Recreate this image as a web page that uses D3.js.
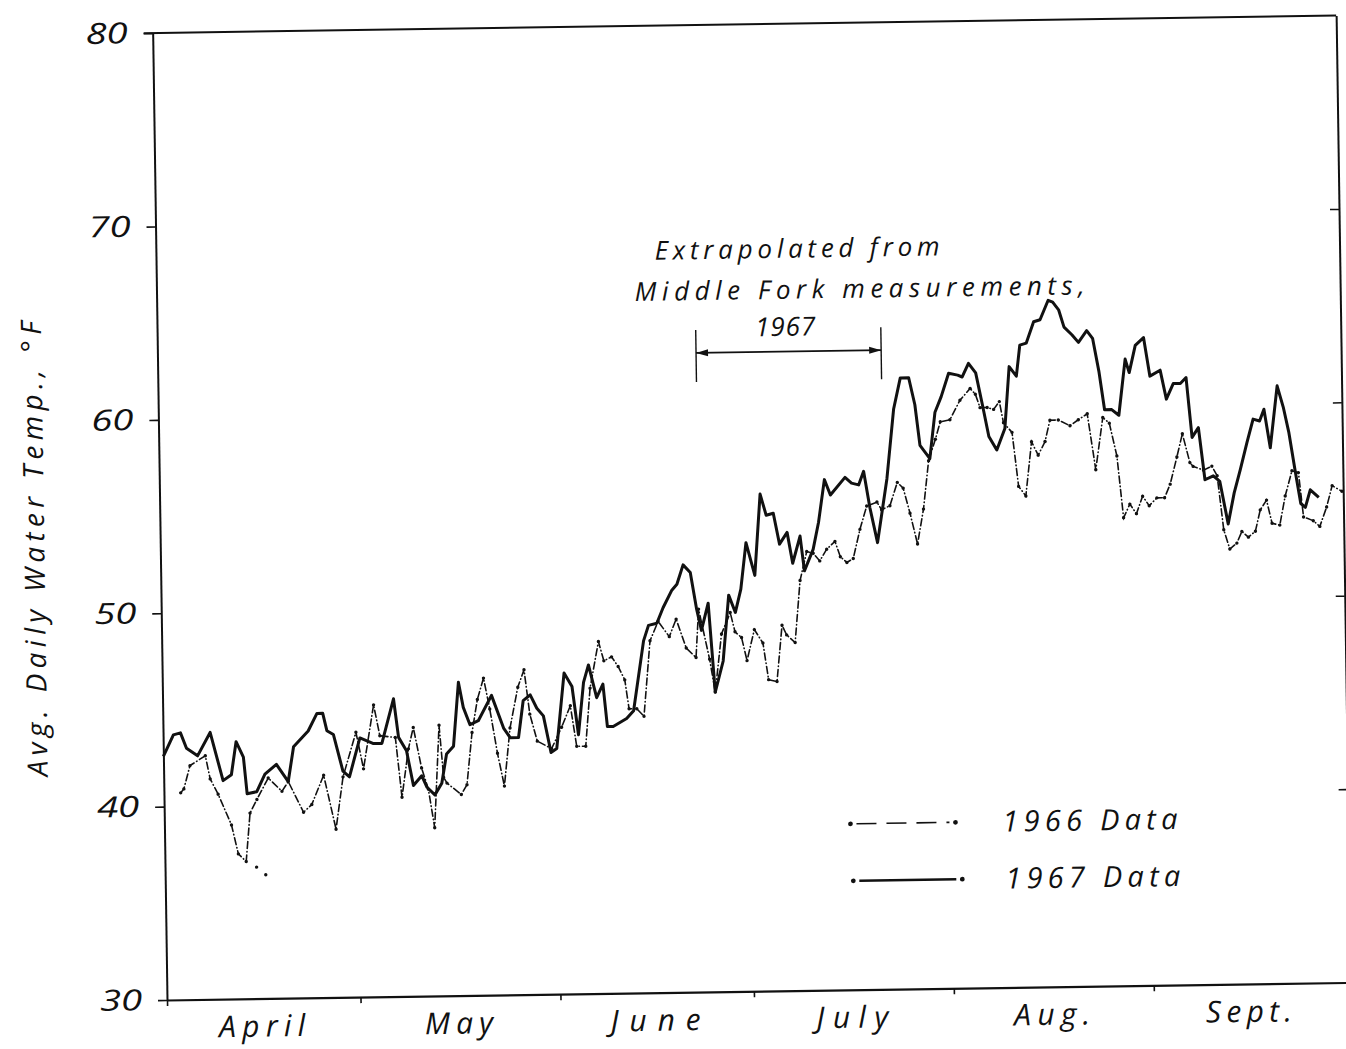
<!DOCTYPE html>
<html>
<head>
<meta charset="utf-8">
<script src="https://cdn.jsdelivr.net/npm/d3@7"></script>
<style>
    body { margin: 0; background: #fff; }
    svg text {
        font-family: "Open Sans", "DejaVu Sans", sans-serif;
        font-style: italic;
        font-weight: 400;
        fill: #111;
    }
</style>
</head>
<body>
<div class="container"></div>
<script>
/*
    Data: [day of season (0 = April 1), avg. water temp in deg F]
*/
const temps1966 = [
    [2.6,40.7],[3.1,40.9],[4.1,42.1],[6.5,42.6],[7.2,41.4],[8.4,40.6],[10.4,39.0],[11.4,37.5],[12.6,37.1],
    [13.3,39.6],[14.4,40.3],[16.2,41.4],[18.3,40.7],[19.3,41.2],[21.6,39.6],[22.9,40.0],[24.8,41.5],
    [26.6,38.7],[27.8,41.4],[29.9,43.7],[31.0,41.8],[32.7,45.1],[33.6,43.5],[36.0,43.4],[36.9,40.3],
    [38.0,42.8],[38.8,43.9],[40.0,41.8],[41.0,40.7],[41.9,38.7],[42.8,44.0],[43.4,41.3],[43.9,41.0],
    [46.1,40.4],[47.0,40.9],[47.9,43.6],[48.8,45.3],[49.8,46.4],[50.7,44.8],[51.8,42.5],[52.8,40.8],
    [53.8,43.8],[55.1,45.9],[56.1,46.8],[56.9,44.5],[58.0,43.1],[60.2,42.7],[61.8,43.8],[63.2,44.9],
    [64.1,42.8],[65.5,42.8],[66.3,45.8],[67.7,48.2],[68.5,47.2],[69.7,47.4],[70.7,46.9],[71.7,46.2],
    [72.3,44.7],[73.5,44.7],[74.6,44.3],[75.7,48.2],[77.0,49.2],[78.7,48.4],[79.8,49.3],[81.3,47.8],
    [82.8,47.3],[83.3,49.8],[84.9,47.2],[85.7,45.5],[86.8,48.5],[88.2,49.6],[88.9,48.6],[89.9,48.3],
    [90.7,47.1],[91.9,48.7],[93.2,48.0],[94.0,46.1],[95.3,46.0],[96.2,48.9],[96.9,48.4],[98.2,48.0],
    [99.1,51.2],[100.2,52.7],[101.2,52.6],[102.2,52.2],[103.3,52.8],[104.6,53.2],[105.4,52.4],[106.4,52.1],
    [107.4,52.3],[108.5,53.8],[109.6,55.0],[111.2,55.2],[111.9,54.8],[113.2,55.0],[114.4,56.2],[115.3,55.9],
    [116.3,54.6],[117.4,53.0],[118.4,54.8],[119.3,57.3],[120.4,58.4],[121.2,59.3],[122.7,59.4],[124.3,60.4],
    [125.9,61.0],[126.7,60.7],[127.4,60.0],[128.5,60.0],[129.5,59.9],[130.4,60.3],[131.0,59.2],[132.3,58.7],
    [133.2,55.9],[134.3,55.4],[135.3,58.2],[136.3,57.5],[137.4,58.2],[138.2,59.3],[139.5,59.3],[141.3,59.0],
    [142.6,59.3],[144.0,59.6],[145.2,56.7],[146.4,59.4],[147.4,59.1],[148.5,57.4],[149.4,54.2],[150.4,54.9],
    [151.4,54.4],[152.4,55.3],[153.4,54.8],[154.6,55.2],[155.8,55.2],[156.7,55.9],[157.8,57.3],[158.7,58.5],
    [159.8,57.0],[160.3,56.8],[161.9,56.6],[163.2,56.8],[164.0,56.3],[164.9,53.5],[165.8,52.5],[166.9,52.8],
    [167.7,53.4],[168.7,53.1],[169.8,53.4],[170.6,54.5],[171.6,55.0],[172.4,53.8],[173.6,53.7],[174.5,55.2],
    [175.6,56.5],[176.6,56.4],[177.3,54.1],[178.8,53.9],[179.8,53.6],[180.9,54.6],[181.8,55.7],[183.3,55.4]
];

// loose dots trailing off the April 1966 dip
const tail1966 = [[14.2,36.8],[15.6,36.4]];

const temps1967 = [
    [0,42.6],[1.6,43.7],[2.7,43.8],[3.6,43.0],[5.3,42.6],[7.3,43.8],[9.2,41.3],[10.5,41.6],[11.3,43.3],
    [12.4,42.5],[12.9,40.6],[14.4,40.7],[15.7,41.6],[17.5,42.1],[19.3,41.2],[20.2,43.0],[22.5,43.8],
    [23.9,44.7],[24.8,44.7],[25.4,43.8],[26.4,43.6],[27.8,41.7],[28.8,41.4],[30.5,43.4],[32.6,43.1],
    [33.9,43.1],[35.8,45.4],[36.5,43.4],[37.7,42.7],[38.7,40.9],[40.0,41.4],[40.8,40.8],[42.0,40.4],
    [43.1,41.0],[43.9,42.5],[45.0,42.9],[45.9,46.2],[46.6,44.9],[47.6,44.0],[48.9,44.2],[51.0,45.5],
    [52.8,43.8],[53.8,43.3],[55.1,43.3],[55.9,45.2],[57.0,45.5],[58.0,44.8],[59.0,44.4],[60.1,42.5],
    [61.0,42.7],[62.3,46.6],[63.5,45.9],[64.4,43.4],[65.3,46.1],[66.1,47.0],[67.3,45.3],[68.3,46.0],
    [68.9,43.8],[69.8,43.8],[71.9,44.2],[73.0,44.6],[74.7,48.2],[75.5,49.0],[76.8,49.1],[77.8,49.9],
    [79.2,50.8],[80.0,51.1],[81.0,52.1],[82.1,51.7],[83.0,49.8],[83.7,48.7],[84.8,50.1],[85.7,45.5],
    [87.0,47.1],[88.0,50.5],[89.0,49.6],[89.9,50.8],[90.8,53.2],[92.1,51.5],[93.1,55.7],[94.0,54.6],
    [95.1,54.7],[96.0,53.1],[97.2,53.7],[98.0,52.1],[99.2,53.5],[99.8,51.7],[101.2,52.8],[102.1,54.2],
    [103.1,56.4],[104.0,55.6],[106.3,56.5],[107.3,56.2],[108.4,56.1],[109.2,56.8],[110.1,54.9],[111.2,53.1],
    [112.8,56.4],[114.0,60.0],[115.1,61.6],[116.4,61.6],[117.3,60.2],[118.0,58.1],[119.5,57.4],[120.4,59.8],
    [121.4,60.6],[122.6,61.8],[124.0,61.7],[124.7,61.6],[125.7,62.3],[126.8,61.8],[127.8,60.1],[128.7,58.5],
    [129.9,57.8],[131.2,58.9],[132.0,62.1],[133.1,61.6],[133.7,63.2],[134.7,63.3],[135.9,64.4],[136.9,64.5],
    [138.2,65.5],[138.9,65.4],[139.8,65.0],[140.6,64.1],[141.8,63.7],[142.8,63.3],[144.1,63.9],[145.0,63.5],
    [145.9,61.8],[146.7,59.8],[147.8,59.8],[148.9,59.5],[150.0,62.4],[150.6,61.7],[151.6,63.1],[152.9,63.5],
    [153.8,61.5],[155.4,61.8],[156.3,60.3],[157.4,61.1],[158.5,61.1],[159.4,61.4],[160.2,58.3],[161.2,58.8],
    [162.1,56.1],[163.4,56.3],[164.4,56.0],[165.6,53.8],[166.6,55.4],[167.6,56.6],[168.7,58.0],[169.7,59.2],
    [170.7,59.1],[171.4,59.7],[172.3,57.7],[173.5,60.9],[174.4,59.8],[175.2,58.5],[176.1,56.5],[176.9,54.8],
    [177.6,54.6],[178.4,55.5],[179.7,55.1]
];

const monthNames = ["April", "May", "June", "July", "Aug.", "Sept."];
const monthStarts = [0, 30, 61, 91, 122, 153];
const seasonEnd = 183.5;
const yTicks = [30, 40, 50, 60, 70, 80];
const rightTicks = [40, 50, 60, 70];
const extrapolatedSpan = [83.5, 112.2];
const noteLines = ["Extrapolated from", "Middle Fork measurements,", "1967"];
const legendLabels = ["1966 Data", "1967 Data"];

/*
    Layout (the scanned sheet sits a little crooked)
*/
const svg_dims = { width: 1346, height: 1049 };
const plot = { left: 167, bottom: 1000, width: 1183.6, height: 967, tilt: -0.85 };

const svg = d3.select(".container").append("svg")
    .attr("width", svg_dims.width)
    .attr("height", svg_dims.height);

svg.append("rect").attr("width", svg_dims.width).attr("height", svg_dims.height).attr("fill", "#fff");

// origin at the bottom-left corner of the frame, y grows downward as usual (negative = up)
const g = svg.append("g")
    .attr("transform", `translate(${plot.left},${plot.bottom}) rotate(${plot.tilt})`);

const xScale = d3.scaleLinear().domain([0, seasonEnd]).range([0, plot.width]);
const yScale = d3.scaleLinear().domain([30, 80]).range([0, -plot.height]);

/* Axes */
const ink = "#111";

g.append("g")
    .call(d3.axisLeft(yScale).tickValues(yTicks).tickSize(9).tickSizeOuter(0).tickFormat(d3.format("d")))
    .call(ax => {
        ax.select(".domain").attr("stroke", ink).attr("stroke-width", 2);
        ax.selectAll(".tick line").attr("stroke", ink).attr("stroke-width", 1.6);
        ax.selectAll(".tick text")
            .attr("x", -25)
            .attr("font-size", 29)
            .attr("textLength", 42)
            .attr("lengthAdjust", "spacingAndGlyphs")
            .style("font-family", null);
    });

g.append("g")
    .attr("transform", `translate(${plot.width},0)`)
    .call(d3.axisLeft(yScale).tickValues(rightTicks).tickSize(9).tickSizeOuter(0).tickFormat(""))
    .call(ax => {
        ax.select(".domain").attr("stroke", ink).attr("stroke-width", 2);
        ax.selectAll(".tick line").attr("stroke", ink).attr("stroke-width", 1.6);
    });

g.append("g")
    .call(d3.axisBottom(xScale).tickValues(monthStarts).tickSize(6).tickSizeOuter(0).tickFormat(""))
    .call(ax => {
        ax.select(".domain").attr("stroke", ink).attr("stroke-width", 2.2);
        ax.selectAll(".tick line").attr("stroke", ink).attr("stroke-width", 1.6);
    });

g.append("line")
    .attr("x1", -9).attr("x2", plot.width)
    .attr("y1", yScale(80)).attr("y2", yScale(80))
    .attr("stroke", ink).attr("stroke-width", 2);

// month names sit in the middle of each month
const monthWidths = [86, 68, 90, 72, 76, 86];
g.selectAll(".month")
    .data(monthNames)
    .enter().append("text")
    .attr("class", "month")
    .attr("x", (d, i) => xScale(((monthStarts[i] + (monthStarts[i + 1] || 183)) / 2)) - 2)
    .attr("y", 38)
    .attr("text-anchor", "middle")
    .attr("font-size", 30)
    .attr("textLength", (d, i) => monthWidths[i])
    .attr("lengthAdjust", "spacing")
    .text(d => d);

g.append("text")
    .attr("transform", `translate(-116,${-453}) rotate(-90)`)
    .attr("text-anchor", "middle")
    .attr("font-size", 28)
    .attr("textLength", 455)
    .attr("lengthAdjust", "spacing")
    .text("Avg. Daily Water Temp., \u00B0F");

/* Series */
const line = d3.line()
    .x(d => xScale(d[0]))
    .y(d => yScale(d[1]));

g.append("path")
    .datum(temps1966)
    .attr("d", line)
    .attr("fill", "none")
    .attr("stroke", ink)
    .attr("stroke-width", 1.6)
    .attr("stroke-dasharray", "7 3 0.5 3")
    .attr("stroke-linecap", "round");

g.selectAll(".dot66")
    .data(temps1966.concat(tail1966))
    .enter().append("circle")
    .attr("class", "dot66")
    .attr("cx", d => xScale(d[0]))
    .attr("cy", d => yScale(d[1]))
    .attr("r", 1.7)
    .attr("fill", ink);

g.append("path")
    .datum(temps1967)
    .attr("d", line)
    .attr("fill", "none")
    .attr("stroke", ink)
    .attr("stroke-width", 3)
    .attr("stroke-linejoin", "round");

/* Extrapolation note */
const spanY = yScale(63.05);
const spanMid = (xScale(extrapolatedSpan[0]) + xScale(extrapolatedSpan[1])) / 2;
const note = g.append("g");
extrapolatedSpan.forEach(d => {
    note.append("line")
        .attr("x1", xScale(d)).attr("x2", xScale(d))
        .attr("y1", spanY - 23).attr("y2", spanY + 29)
        .attr("stroke", ink).attr("stroke-width", 1.4);
});
note.append("line")
    .attr("x1", xScale(extrapolatedSpan[0])).attr("x2", xScale(extrapolatedSpan[1]))
    .attr("y1", spanY).attr("y2", spanY)
    .attr("stroke", ink).attr("stroke-width", 1.8);
[[xScale(extrapolatedSpan[1]), -1], [xScale(extrapolatedSpan[0]), 1]].forEach(([x, dir]) => {
    note.append("path")
        .attr("d", `M${x},${spanY} l${dir * 12},-3.5 l0,7 Z`)
        .attr("fill", ink);
});
const noteSpots = [[spanMid + 10, -733, 285], [spanMid + 72, -692, 450], [spanMid - 3, -655, 60]];
note.selectAll("text")
    .data(noteLines)
    .enter().append("text")
    .attr("x", (d, i) => noteSpots[i][0])
    .attr("y", (d, i) => noteSpots[i][1])
    .attr("text-anchor", "middle")
    .attr("font-size", 26)
    .attr("textLength", (d, i) => noteSpots[i][2])
    .attr("lengthAdjust", "spacing")
    .text(d => d);

/* Legend */
const legend = g.append("g").attr("transform", "translate(686,-166)");
const legendRows = [
    { dash: "20 10", width: 1.6, x2: 105 },
    { dash: null, width: 2.6, x2: 109 }
];
legendRows.forEach((row, i) => {
    const r = legend.append("g").attr("transform", `translate(${i * 2},${i * 57})`);
    r.append("line")
        .attr("x1", 6).attr("x2", row.x2 - 6)
        .attr("stroke", ink).attr("stroke-width", row.width)
        .attr("stroke-dasharray", row.dash);
    [0, row.x2].forEach(x => r.append("circle").attr("cx", x).attr("r", 2.4).attr("fill", ink));
    r.append("text")
        .attr("x", 152)
        .attr("y", 10)
        .attr("font-size", 29)
        .attr("textLength", 175)
        .attr("lengthAdjust", "spacing")
        .text(legendLabels[i]);
});
</script>
</body>
</html>
